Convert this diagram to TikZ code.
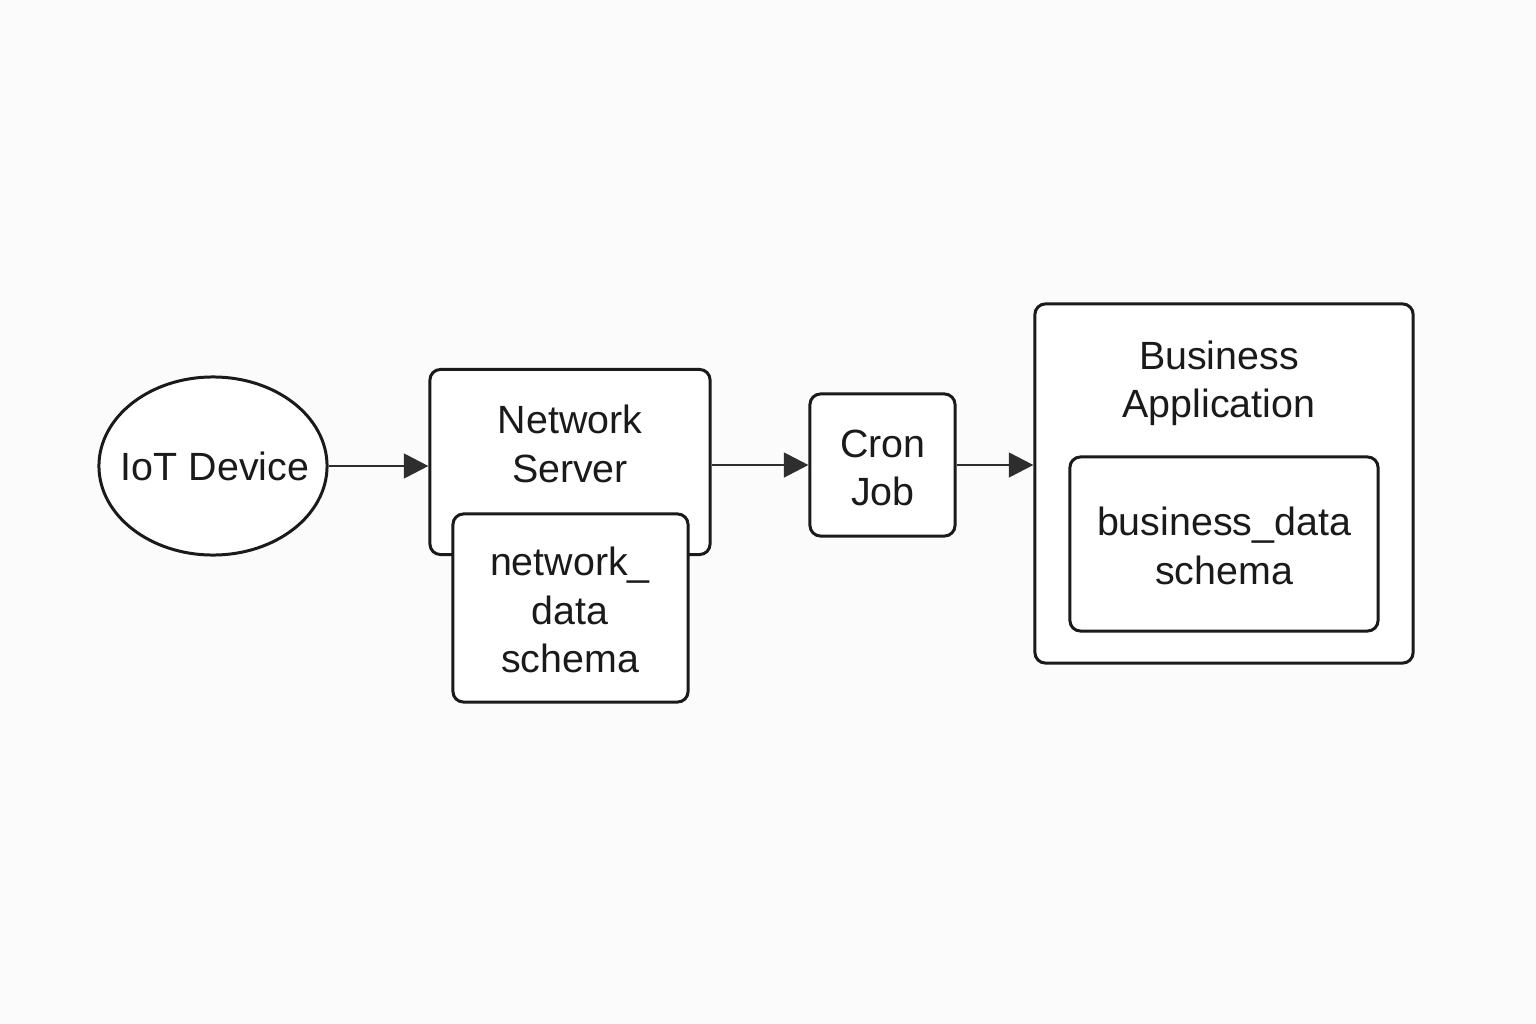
\documentclass[tikz,border=0pt]{standalone}
\usepackage{fontspec}
\setmainfont{Liberation Sans}
\usetikzlibrary{arrows.meta,shapes.geometric}
\definecolor{ink}{HTML}{1A1A1A}
\definecolor{arr}{HTML}{2E2E2E}
\definecolor{bg}{HTML}{FBFBFB}
\begin{document}
\begin{tikzpicture}[x=0.01cm,y=-0.01cm,
  box/.style={draw=ink,line width=0.85pt,rounded corners=3pt,fill=white,inner sep=0pt},
  lbl/.style={align=center,text=ink,inner sep=0pt,font=\fontsize{11.2}{13.7}\selectfont},
  conn/.style={draw=arr,line width=0.85pt,-{Triangle[length=7pt,width=7pt]}}]
\fill[bg] (0,0) rectangle (1536,1024);
\useasboundingbox (0,0) rectangle (1536,1024);
% IoT device
\node[ellipse,draw=ink,line width=0.85pt,fill=white,minimum width=2.28cm,minimum height=1.78cm,inner sep=0pt] (iot) at (213,466) {};
\node[lbl] (iott) at (215,466) {IoT Device};
% Network server
\node[box,minimum width=2.80cm,minimum height=1.85cm] (ns) at (570,462) {};
\node[lbl] (nst) at (570,444) {Network\\Server};
\node[box,minimum width=2.35cm,minimum height=1.88cm] (nds) at (570.5,608) {};
\node[lbl] (ndst) at (570,610) {network\_\\data\\schema};
% Cron job
\node[box,minimum width=1.45cm,minimum height=1.42cm] (cron) at (882.5,465) {};
\node[lbl] (cront) at (883,468) {Cron\\Job};
% Business application
\node[box,minimum width=3.78cm,minimum height=3.59cm] (ba) at (1224,483.5) {};
\node[lbl] (bat) at (1219,383) {Business\\Application};
\node[box,minimum width=3.08cm,minimum height=1.74cm] (bds) at (1224,544) {};
\node[lbl] (bdst) at (1224,546) {business\_data\\schema};
% connectors
\draw[conn] (iot.east) -- (iot.east -| ns.west);
\draw[conn] (ns.east |- cron.west) -- (cron.west);
\draw[conn] (cron.east) -- (cron.east -| ba.west);
\end{tikzpicture}
\end{document}
